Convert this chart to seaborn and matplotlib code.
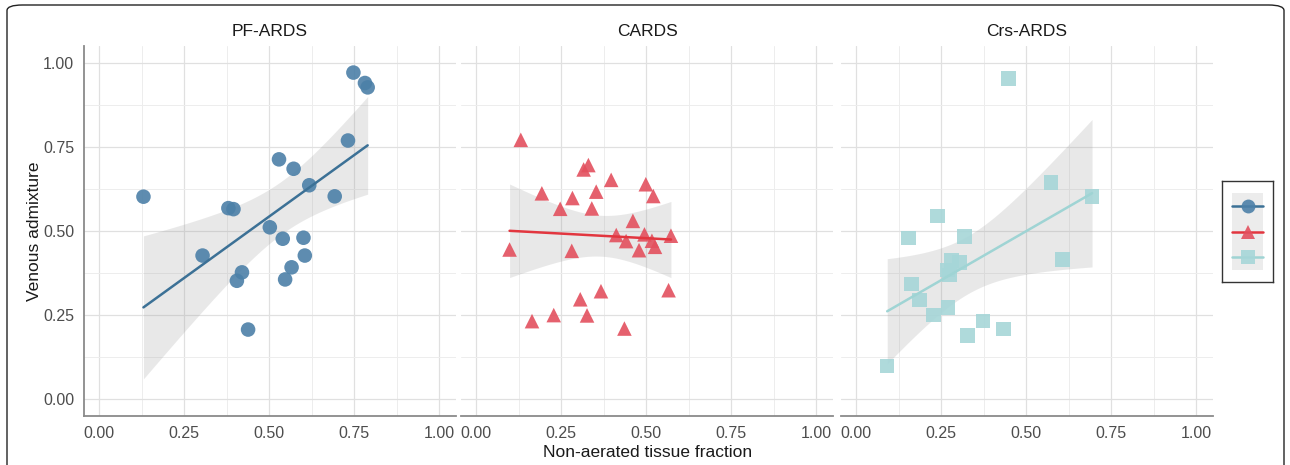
import numpy as np
import pandas as pd
import matplotlib
matplotlib.use("Agg")
import matplotlib.pyplot as plt
import seaborn as sns
from matplotlib.patches import FancyBboxPatch, Rectangle

# ---- data ----
groups = ["PF-ARDS", "CARDS", "Crs-ARDS"]
pf_x = [0.13, 0.304, 0.38, 0.395, 0.42, 0.405, 0.438, 0.502, 0.529, 0.54, 0.547,
        0.566, 0.572, 0.601, 0.605, 0.618, 0.693, 0.732, 0.748, 0.782, 0.79]
pf_y = [0.602, 0.427, 0.568, 0.565, 0.377, 0.352, 0.207, 0.511, 0.713, 0.477, 0.356,
        0.392, 0.685, 0.48, 0.427, 0.636, 0.603, 0.769, 0.971, 0.94, 0.927]
cards_x = [0.131, 0.098, 0.193, 0.164, 0.228, 0.247, 0.283, 0.281, 0.306, 0.316, 0.33,
           0.326, 0.353, 0.34, 0.367, 0.397, 0.412, 0.436, 0.441, 0.461, 0.479, 0.495,
           0.499, 0.521, 0.517, 0.526, 0.566, 0.573]
cards_y = [0.771, 0.445, 0.612, 0.232, 0.25, 0.566, 0.598, 0.441, 0.297, 0.683, 0.696,
           0.249, 0.617, 0.567, 0.321, 0.652, 0.488, 0.21, 0.47, 0.53, 0.443, 0.49,
           0.639, 0.604, 0.471, 0.453, 0.324, 0.486]
crs_x = [0.448, 0.573, 0.694, 0.239, 0.153, 0.318, 0.607, 0.281, 0.303, 0.269, 0.274,
         0.163, 0.186, 0.27, 0.227, 0.373, 0.433, 0.328, 0.091]
crs_y = [0.953, 0.645, 0.603, 0.545, 0.479, 0.483, 0.416, 0.412, 0.407, 0.384, 0.369,
         0.342, 0.295, 0.272, 0.25, 0.233, 0.209, 0.19, 0.099]
ticks = [0.0, 0.25, 0.5, 0.75, 1.0]
tick_labels = ["0.00", "0.25", "0.50", "0.75", "1.00"]

xs = [pf_x, cards_x, crs_x]
ys = [pf_y, cards_y, crs_y]
point_colors = ["#4c80a8", "#e3505e", "#a6d6d8"]
line_colors = ["#3c7196", "#e2363f", "#9fd4d4"]
markers = ["o", "^", "s"]

df = pd.concat([pd.DataFrame({"group": g, "x": x, "y": y})
                for g, x, y in zip(groups, xs, ys)], ignore_index=True)


def t975(dof):
    try:
        from scipy import stats
        return stats.t.ppf(0.975, dof)
    except Exception:
        table = {17: 2.110, 19: 2.093, 26: 2.056}
        return table.get(dof, 2.06)


sns.set_theme(style="whitegrid")
plt.rcParams["font.family"] = ["Liberation Sans", "DejaVu Sans"]

W, H = 1290, 465
fig = plt.figure(figsize=(W / 100, H / 100), dpi=100)

lefts = [84, 461, 841]
pw = 372
top_px, bot_px = 46, 416
for i, g in enumerate(groups):
    ax = fig.add_axes([lefts[i] / W, 1 - bot_px / H, pw / W, (bot_px - top_px) / H])
    ax.set_facecolor("white")
    sub = df[df.group == g]
    # analytic 95% confidence band (as in a linear-model smooth)
    x = sub["x"].to_numpy()
    y = sub["y"].to_numpy()
    n = len(x)
    b1, b0 = np.polyfit(x, y, 1)
    resid = y - (b0 + b1 * x)
    s = np.sqrt(np.sum(resid ** 2) / (n - 2))
    grid = np.linspace(x.min(), x.max(), 100)
    se = s * np.sqrt(1 / n + (grid - x.mean()) ** 2 / np.sum((x - x.mean()) ** 2))
    tq = t975(n - 2)
    fit = b0 + b1 * grid
    ax.fill_between(grid, fit - tq * se, fit + tq * se, color="#9a9a9a", alpha=0.22,
                    linewidth=0, zorder=2)
    sns.scatterplot(data=sub, x="x", y="y", ax=ax, marker=markers[i], s=110,
                    color=point_colors[i], alpha=0.9, edgecolor="none", zorder=3)
    sns.regplot(data=sub, x="x", y="y", ax=ax, scatter=False, ci=None, truncate=True,
                color=line_colors[i], line_kws={"linewidth": 1.8, "zorder": 4})
    ax.set_xlim(-0.045, 1.05)
    ax.set_ylim(-0.05, 1.05)
    ax.set_xticks(ticks)
    ax.set_xticklabels(tick_labels)
    ax.set_yticks(ticks)
    ax.set_yticklabels(tick_labels if i == 0 else [])
    ax.set_xticks(np.arange(0.125, 1.0, 0.25), minor=True)
    ax.set_yticks(np.arange(0.125, 1.0, 0.25), minor=True)
    ax.grid(True, which="major", color="#e0e0e0", linewidth=0.9)
    ax.grid(True, which="minor", color="#ededed", linewidth=0.7)
    ax.tick_params(axis="both", which="both", length=0, labelsize=11.5,
                   labelcolor="#4d4d4d", pad=7)
    ax.set_xlabel("")
    ax.set_ylabel("")
    for sp in ["top", "right", "left"]:
        ax.spines[sp].set_visible(False)
    ax.spines["bottom"].set_visible(True)
    ax.spines["bottom"].set_color("#8a8a8a")
    ax.spines["bottom"].set_linewidth(1.3)
    if i == 0:
        ax.spines["left"].set_visible(True)
        ax.spines["left"].set_color("#8a8a8a")
        ax.spines["left"].set_linewidth(1.3)
    ax.set_title(g, fontsize=12.5, color="#1a1a1a", pad=7)

fig.text(648 / W, 1 - 452 / H, "Non-aerated tissue fraction", ha="center", va="center",
         fontsize=12.5, color="#1a1a1a")
fig.text(35 / W, 1 - 231 / H, "Venous admixture", ha="center", va="center",
         rotation=90, fontsize=12.5, color="#1a1a1a")

# legend (keys only, no labels)
lax = fig.add_axes([1222 / W, 1 - 282 / H, 51 / W, 101 / H])
lax.set_xlim(0, 1)
lax.set_ylim(0, 1)
lax.set_xticks([])
lax.set_yticks([])
lax.grid(False)
lax.set_facecolor("white")
for sp in lax.spines.values():
    sp.set_visible(True)
    sp.set_color("#333333")
    sp.set_linewidth(1.0)
lax.add_patch(Rectangle((0.2, 0.12), 0.6, 0.76, facecolor="#ececec", edgecolor="none"))
for k, yk in enumerate([0.75, 0.5, 0.25]):
    lax.plot([0.2, 0.8], [yk, yk], color=line_colors[k], linewidth=1.8)
    lax.plot([0.5], [yk], marker=markers[k], markersize=10, color=point_colors[k],
             markeredgewidth=0, alpha=0.9)

# outer rounded frame
frame = FancyBboxPatch((7 / W, -0.05), (1284 - 7) / W, (1 - 5 / H) + 0.05,
                       boxstyle="round,pad=0,rounding_size=0.012",
                       transform=fig.transFigure, facecolor="none",
                       edgecolor="#222222", linewidth=1.0)
fig.patches.append(frame)

fig.savefig("out.png", dpi=100, facecolor="white")
